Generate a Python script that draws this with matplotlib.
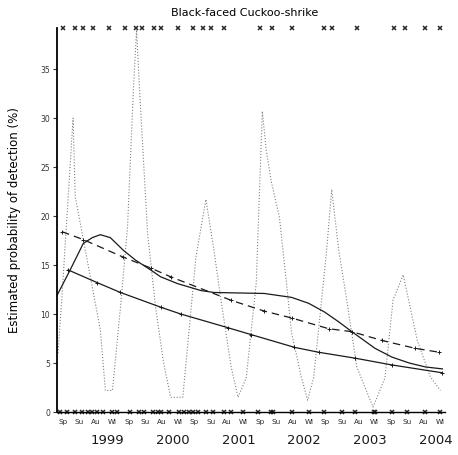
import matplotlib
matplotlib.use("Agg")
import matplotlib.pyplot as plt
import matplotlib.transforms as mtransforms
import numpy as np

# x is in season steps: 0 = Spring 1999, 23 = Winter 2004
SEASONS = ["Sp", "Su", "Au", "Wi"]
YEARS = ["1999", "2000", "2001", "2002", "2003", "2004"]

# seasonal model (dotted)
dot_t = [-0.31, -0.06, 0.61, 0.74, 1.47, 2.27, 2.58, 3.01, 3.50, 3.93, 4.29, 4.48, 4.66,
         5.15, 5.64, 6.13, 6.56, 7.30, 8.10, 8.71, 9.20, 9.63, 10.25, 10.67, 11.17,
         11.78, 12.15, 12.39, 12.70, 13.19, 13.62, 13.93, 14.54, 14.91, 15.28, 16.07,
         16.38, 16.81, 17.30, 17.91, 18.90, 19.63, 20.12, 20.74, 21.60, 22.39, 23.01]
dot_v = [6.0, 12.0, 30.0, 22.0, 15.5, 8.4, 2.2, 2.2, 10.7, 18.9, 33.0, 39.0, 33.0,
         18.3, 10.7, 5.0, 1.5, 1.5, 15.8, 21.7, 16.5, 11.4, 4.6, 1.5, 3.5,
         13.2, 30.7, 26.7, 23.5, 19.9, 13.2, 8.1, 3.5, 1.2, 3.5, 16.5,
         22.7, 16.5, 11.4, 4.6, 0.5, 3.5, 11.4, 14.0, 7.3, 3.6, 2.2]

# linear trend (solid)
lin_t = [0.31, 2.09, 3.50, 5.95, 7.18, 10.06, 11.47, 14.11, 15.58, 17.79, 20.06, 23.13]
lin_v = [14.5, 13.2, 12.2, 10.7, 10.0, 8.6, 7.9, 6.6, 6.1, 5.5, 4.8, 4.0]

# smooth trend (solid, hump)
hump_t = [-0.37, 0.43, 1.23, 1.78, 2.27, 2.88, 3.68, 4.42, 5.34, 5.95, 6.99, 8.40,
          9.20, 12.27, 13.93, 14.97, 15.95, 16.81, 17.61, 19.02, 20.06, 21.11, 22.09, 23.13]
hump_v = [11.9, 14.5, 17.2, 17.8, 18.1, 17.8, 16.5, 15.5, 14.5, 13.8, 13.1, 12.4,
          12.2, 12.1, 11.7, 11.1, 10.2, 9.2, 8.2, 6.5, 5.6, 5.0, 4.6, 4.4]

# dashed trend
dash_t = [-0.06, 1.23, 3.68, 5.34, 6.56, 10.25, 12.27, 13.93, 16.20, 17.61, 19.45, 21.47, 22.94]
dash_v = [18.4, 17.6, 15.8, 14.7, 13.8, 11.4, 10.3, 9.6, 8.5, 8.2, 7.3, 6.5, 6.1]

# raw records: detected (top) / not detected (bottom)
det_t = [0.0, 0.74, 1.23, 1.84, 2.82, 3.80, 4.42, 4.79, 5.52, 5.95, 6.99, 7.91, 8.53,
         9.02, 9.82, 12.02, 12.76, 13.93, 15.89, 16.38, 17.91, 20.18, 20.86, 22.09, 23.0]
nodet_t = [-0.18, 0.25, 0.74, 1.17, 1.53, 1.78, 2.09, 2.45, 3.01, 3.31, 4.11, 4.60,
           4.91, 5.46, 5.77, 5.95, 6.44, 7.06, 7.36, 7.67, 7.91, 8.22, 8.71, 9.14,
           9.82, 10.25, 10.98, 11.90, 12.70, 12.82, 13.93, 14.97, 15.89, 16.99,
           17.79, 18.96, 19.02, 20.06, 20.98, 22.09, 23.0]

YTOP = 39.2

fig = plt.figure(figsize=(4.58, 4.55), dpi=100)
ax = fig.add_axes([0.1245, 0.0945, 0.8475, 0.844])

ax.plot(dot_t, dot_v, color="0.5", ls=":", lw=0.8)
ax.plot(lin_t, lin_v, color="0.1", lw=0.9, marker="+", ms=2.5, mew=0.7)
ax.plot(hump_t, hump_v, color="0.1", lw=0.9)
ax.plot(dash_t, dash_v, color="0.1", lw=0.9, dashes=(6, 4), marker="+", ms=2.5, mew=0.7)

ax.plot(det_t, [YTOP] * len(det_t), ls="none", marker="x", ms=3, mew=1.1,
        color="0.15", clip_on=False)
ax.plot(nodet_t, [0] * len(nodet_t), ls="none", marker="x", ms=3, mew=1.1,
        color="0.15", clip_on=False)

ax.set_xlim(-0.37, 23.3)
ax.set_ylim(0, YTOP)

for s in ["top", "right"]:
    ax.spines[s].set_visible(False)
ax.spines["left"].set_linewidth(1.3)
ax.spines["bottom"].set_linewidth(1.0)

ax.set_yticks(np.arange(0, 36, 5))
ax.tick_params(axis="y", length=3, width=0.8, labelsize=5.5, pad=2, colors="0.2")
ax.set_xticks(np.arange(24))
ax.set_xticklabels(SEASONS * 6)
ax.tick_params(axis="x", length=0, labelsize=5.2, pad=5, colors="0.15")

trans = mtransforms.blended_transform_factory(ax.transData, ax.transAxes)
for k, yr in enumerate(YEARS):
    ax.text(2.7 + 4 * k, -0.075, yr, transform=trans, ha="center", va="center",
            fontsize=9.5, color="0.1")

ax.set_ylabel("Estimated probability of detection (%)", fontsize=8.5, labelpad=14)
fig.text(0.535, 0.972, "Black-faced Cuckoo-shrike", ha="center", va="center", fontsize=8)

fig.savefig("out.png", dpi=100)
